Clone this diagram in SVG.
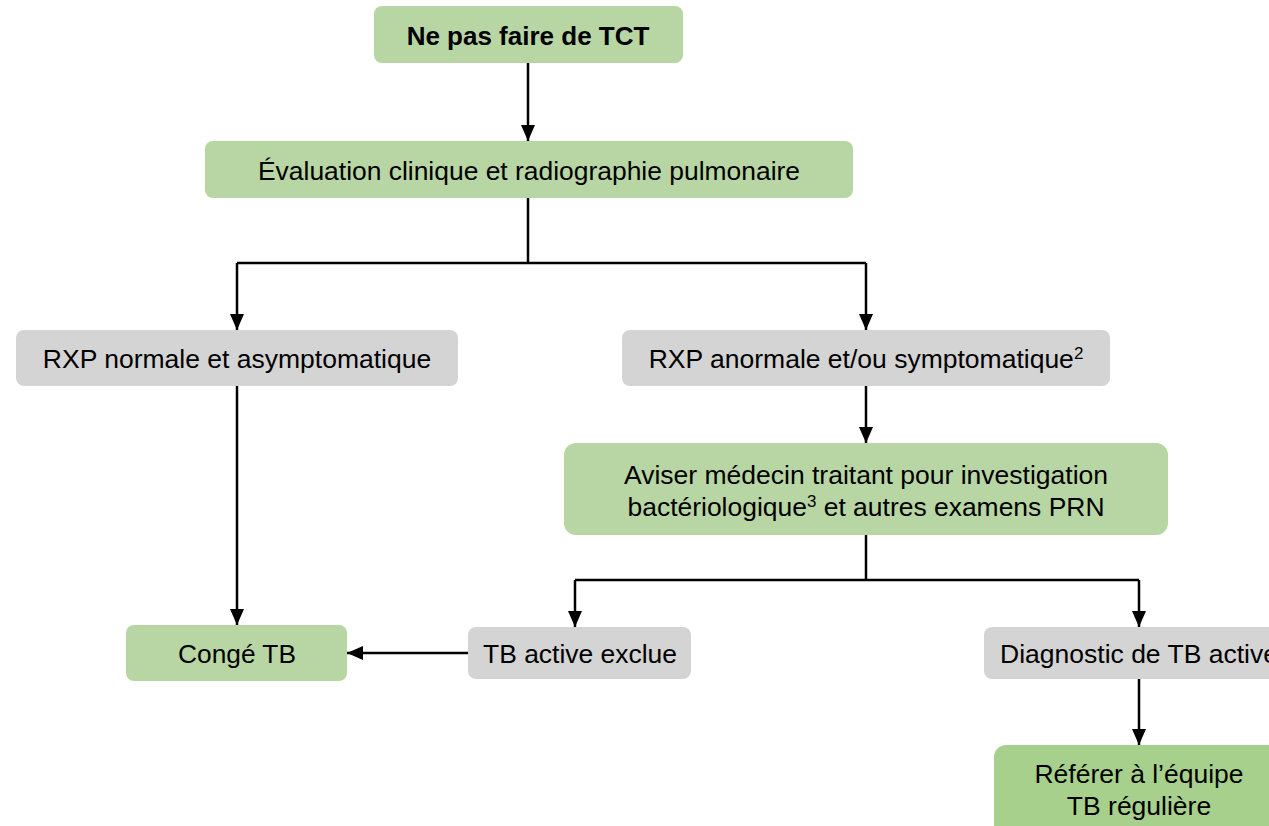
<svg xmlns="http://www.w3.org/2000/svg" width="1269" height="826" viewBox="0 0 1269 826">
<defs>
<marker id="ah" markerWidth="16" markerHeight="14" refX="16" refY="7" orient="auto" markerUnits="userSpaceOnUse" viewBox="0 0 16 14">
<path d="M0,0 L16,7 L0,14 z" fill="#000"/>
</marker>
<style>
.g{fill:#b8d6a4}
.g2{fill:#a8d08d}
.y{fill:#d4d4d4}
text{font-family:"Liberation Sans",Arial,sans-serif;font-size:26.5px;fill:#000;text-anchor:middle}
.b{font-weight:bold;font-size:26px}
.c line,.c path{stroke:#000;stroke-width:2.5;fill:none}
</style>
</defs>
<rect width="1269" height="826" fill="#fff"/>
<g class="c" id="connectors">
<line x1="528" y1="63" x2="528" y2="141" marker-end="url(#ah)"/>
<line x1="528" y1="198" x2="528" y2="263"/>
<path d="M237,263 H866"/>
<line x1="237" y1="263" x2="237" y2="330" marker-end="url(#ah)"/>
<line x1="866" y1="263" x2="866" y2="330" marker-end="url(#ah)"/>
<line x1="866" y1="386" x2="866" y2="443" marker-end="url(#ah)"/>
<line x1="237" y1="386" x2="237" y2="625" marker-end="url(#ah)"/>
<line x1="866" y1="535" x2="866" y2="580"/>
<path d="M575,580 H1139"/>
<line x1="575" y1="580" x2="575" y2="627" marker-end="url(#ah)"/>
<line x1="1139" y1="580" x2="1139" y2="627" marker-end="url(#ah)"/>
<line x1="468" y1="653" x2="347" y2="653" marker-end="url(#ah)"/>
<line x1="1139" y1="679" x2="1139" y2="745" marker-end="url(#ah)"/>
</g>
<g id="n1"><rect class="g" x="374" y="6" width="309" height="57" rx="8"/><text class="b" x="528" y="45">Ne pas faire de TCT</text></g>
<g id="n2"><rect class="g" x="205" y="141" width="648" height="57" rx="8"/><text x="529" y="180" textLength="542" lengthAdjust="spacingAndGlyphs">Évaluation clinique et radiographie pulmonaire</text></g>
<g id="n3"><rect class="y" x="16" y="330" width="442" height="56" rx="8"/><text x="237" y="368">RXP normale et asymptomatique</text></g>
<g id="n4"><rect class="y" x="622" y="330" width="488" height="56" rx="8"/><text x="866" y="368">RXP anormale et/ou symptomatique<tspan font-size="17" dy="-9">2</tspan></text></g>
<g id="n5"><rect class="g" x="564" y="443" width="604" height="92" rx="12"/><text x="866" y="484" textLength="484" lengthAdjust="spacingAndGlyphs">Aviser médecin traitant pour investigation</text><text x="866" y="516" textLength="477" lengthAdjust="spacingAndGlyphs">bactériologique<tspan font-size="17" dy="-9">3</tspan><tspan dy="9"> et autres examens PRN</tspan></text></g>
<g id="n6"><rect class="g" x="126" y="625" width="221" height="56" rx="8"/><text x="237" y="663" textLength="118" lengthAdjust="spacingAndGlyphs">Congé TB</text></g>
<g id="n7"><rect class="y" x="468" y="627" width="223" height="52" rx="8"/><text x="580" y="663" textLength="194" lengthAdjust="spacingAndGlyphs">TB active exclue</text></g>
<g id="n8"><rect class="y" x="984" y="627" width="310" height="52" rx="8"/><text x="1139" y="663">Diagnostic de TB active</text></g>
<g id="n9"><rect class="g2" x="994" y="745" width="290" height="100" rx="12"/><text x="1139" y="783">Référer à l’équipe</text><text x="1139" y="815">TB régulière</text></g>
</svg>
